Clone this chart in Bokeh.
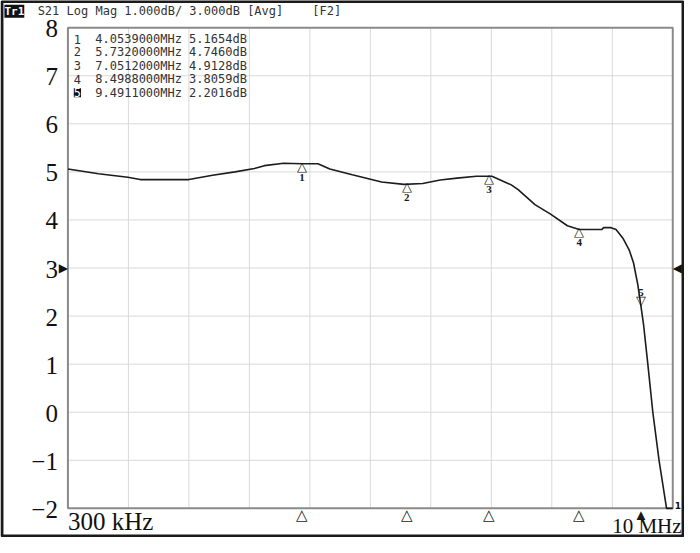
import numpy as np
from bokeh.plotting import figure
from bokeh.models import ColumnDataSource, Label, LabelSet, Range1d
from bokeh.embed import file_html
from bokeh.resources import INLINE

# ---------------- data ----------------
freq_mhz = [0.30, 0.79, 1.26, 1.46, 2.24, 2.62, 2.98, 3.29, 3.45, 3.76, 4.05, 4.31,
            4.50, 4.86, 5.33, 5.69, 5.99, 6.27, 6.54, 6.85, 7.10, 7.41, 7.52, 7.79,
            8.04, 8.31, 8.50, 8.86, 8.89, 9.01, 9.09, 9.20, 9.30, 9.37, 9.44, 9.49,
            9.53, 9.60, 9.68, 9.78, 9.90, 10.00]
s21_db = [5.06, 4.96, 4.89, 4.84, 4.84, 4.93, 5.00, 5.07, 5.13, 5.18, 5.17, 5.17,
          5.06, 4.94, 4.79, 4.74, 4.76, 4.83, 4.87, 4.91, 4.91, 4.73, 4.63, 4.32,
          4.12, 3.88, 3.80, 3.80, 3.84, 3.84, 3.80, 3.62, 3.38, 3.11, 2.65, 2.20,
          1.84, 1.00, 0.00, -1.00, -2.00, -2.00]

marker_no = ["1", "2", "3", "4", "5"]
marker_freq = [4.0539, 5.7320, 7.0512, 8.4988, 9.4911]
marker_db = [5.1654, 4.7460, 4.9128, 3.8059, 2.2016]
active_marker = "5"

y_ticks = [-2, -1, 0, 1, 2, 3, 4, 5, 6, 7, 8]
y_tick_text = [str(t).replace("-", "\u2212") for t in y_ticks]
n_xdiv = 10
start_label = "300 kHz"
stop_label = "10 MHz"
f_start, f_stop = 0.3, 10.0
ref_level = 3
title_tag = "Tr1"
title_text = "S21 Log Mag 1.000dB/ 3.000dB [Avg]"
title_right = "[F2]"

# ---------------- geometry ----------------
W, H = 684, 537                 # figure size (reference is 700 x 553)
RW, RH = 700, 553               # reference layout size
PL, PR, PT, PB = 69, 688, 28, 523   # plot box in reference pixels
Y0, Y1 = y_ticks[0], y_ticks[-1]


def rx(px):   # reference pixel -> data x
    return f_start + (px - PL) / (PR - PL) * (f_stop - f_start)


def ry(py):   # reference pixel -> data y
    return Y1 - (py - PT) / (PB - PT) * (Y1 - Y0)


p = figure(width=W, height=H, output_backend="svg", toolbar_location=None,
           x_range=Range1d(rx(0), rx(RW)), y_range=Range1d(ry(RH), ry(0)),
           min_border=0, x_axis_location=None, y_axis_location=None)
p.background_fill_color = "white"
p.border_fill_color = "white"
p.outline_line_color = None
p.xgrid.visible = False
p.ygrid.visible = False

INK = "#1a1a1a"
TXT = "#333333"

# grid
xg = list(np.linspace(f_start, f_stop, n_xdiv + 1)[1:-1])
yg = y_ticks[1:-1]
p.segment(x0=xg, y0=[Y0] * len(xg), x1=xg, y1=[Y1] * len(xg),
          line_color="#d9d9d9", line_width=1)
p.segment(x0=[f_start] * len(yg), y0=yg, x1=[f_stop] * len(yg), y1=yg,
          line_color="#d9d9d9", line_width=1)
# plot box
p.quad(left=[f_start], right=[f_stop], bottom=[Y0], top=[Y1], fill_color=None,
       line_color="#8a8a8a", line_width=2)
# outer instrument frame
p.quad(left=[rx(1.5)], right=[rx(698.5)], bottom=[ry(551.5)], top=[ry(1)],
       fill_color=None, line_color=INK, line_width=3)

# trace
p.line(freq_mhz, s21_db, line_color="#1c1c1c", line_width=1.6)

# y tick labels
p.add_layout(LabelSet(x="x", y="y", text="t",
                      source=ColumnDataSource(dict(x=[f_start] * len(y_ticks),
                                                   y=y_ticks, t=y_tick_text)),
                      text_align="right", text_baseline="middle", x_offset=-10,
                      y_offset=-1, text_font="Liberation Serif",
                      text_font_size="25px", text_color="#111111"))

# markers on trace
norm = [m for m in marker_no if m != active_marker]
src_n = ColumnDataSource(dict(
    x=[marker_freq[marker_no.index(m)] for m in norm],
    y=[marker_db[marker_no.index(m)] for m in norm],
    t=["\u25b3"] * len(norm), n=norm))
ia = marker_no.index(active_marker)
src_a = ColumnDataSource(dict(x=[marker_freq[ia]], y=[marker_db[ia]],
                              t=["\u25bd"], n=[active_marker]))
common = dict(text_font="DejaVu Sans", text_color="#1a1a1a", text_align="center")
p.add_layout(LabelSet(x="x", y="y", text="t", source=src_n, text_baseline="top",
                      text_font_size="13px", y_offset=5, **common))
p.add_layout(LabelSet(x="x", y="y", text="n", source=src_n, text_baseline="top",
                      text_font_size="11px", text_font_style="bold",
                      y_offset=-10, **common))
p.add_layout(LabelSet(x="x", y="y", text="t", source=src_a, text_baseline="bottom",
                      text_font_size="13px", y_offset=-2, **common))
p.add_layout(LabelSet(x="x", y="y", text="n", source=src_a, text_baseline="bottom",
                      text_font_size="11px", text_font_style="bold",
                      y_offset=10, **common))

# stimulus-axis marker indicators below the plot box
src_b = ColumnDataSource(dict(
    x=marker_freq,
    t=["\u25b2" if m == active_marker else "\u25b3" for m in marker_no],
    y=[Y0] * len(marker_no)))
p.add_layout(LabelSet(x="x", y="y", text="t", source=src_b, text_baseline="top",
                      text_font_size="15px", y_offset=1, **common))

# reference level arrows
p.add_layout(Label(x=f_start, y=ref_level, text="\u25b6", text_align="right",
                   text_baseline="middle", text_font="DejaVu Sans",
                   text_font_size="12px", text_color="#111111"))
p.add_layout(Label(x=f_stop, y=ref_level, text="\u25c0", text_align="left",
                   text_baseline="middle", text_font="DejaVu Sans",
                   text_font_size="12px", text_color="#111111"))

# start / stop labels
p.add_layout(Label(x=f_start, y=Y0, text=start_label, text_align="left",
                   text_baseline="top", y_offset=0, text_font="Liberation Serif",
                   text_font_size="25px", text_color="#111111"))
p.add_layout(Label(x=rx(697), y=Y0, text=stop_label, text_align="right",
                   text_baseline="top", y_offset=-6,
                   text_font="Liberation Serif", text_font_size="21px",
                   text_color="#111111"))
p.add_layout(Label(x=f_stop, y=Y0, text="1", text_align="left",
                   text_baseline="middle", x_offset=2, y_offset=3,
                   text_font="DejaVu Sans", text_font_size="9px",
                   text_font_style="bold", text_color="#111111"))

# title bar
p.add_layout(Label(x=rx(4), y=ry(11), text=title_tag, text_baseline="middle",
                   text_font="DejaVu Sans Mono", text_font_size="11px",
                   text_font_style="bold", text_color="white",
                   background_fill_color="#111111"))
p.add_layout(Label(x=rx(38), y=ry(11), text=title_text, text_baseline="middle",
                   text_font="DejaVu Sans Mono", text_font_size="12px",
                   text_color=TXT))
p.add_layout(Label(x=rx(319), y=ry(11), text=title_right, text_baseline="middle",
                   text_font="DejaVu Sans Mono", text_font_size="12px",
                   text_color=TXT))

# marker table
row_y = [40, 53, 67, 81, 95]
for i, m in enumerate(marker_no):
    yy = ry(row_y[i])
    act = (m == active_marker)
    p.add_layout(Label(x=rx(75), y=yy, text=m, text_baseline="middle",
                       text_font="DejaVu Sans Mono", text_font_size="12px",
                       text_color="white" if act else TXT,
                       background_fill_color="#111111" if act else None))
    p.add_layout(Label(x=rx(97), y=yy, text=f"{marker_freq[i]:.7f}MHz",
                       text_baseline="middle", text_font="DejaVu Sans Mono",
                       text_font_size="12px", text_color=TXT))
    p.add_layout(Label(x=rx(193), y=yy, text=f"{marker_db[i]:.4f}dB",
                       text_baseline="middle", text_font="DejaVu Sans Mono",
                       text_font_size="12px", text_color=TXT))

open("out.html", "w").write(file_html(p, INLINE))
